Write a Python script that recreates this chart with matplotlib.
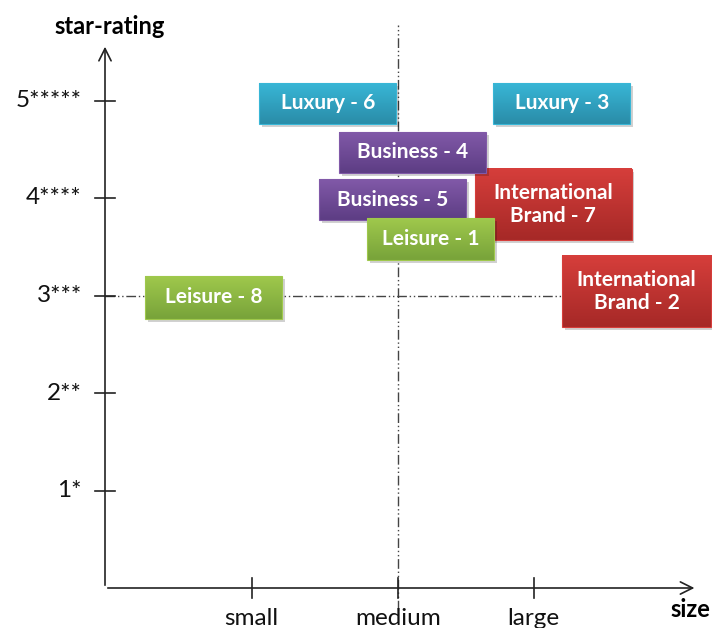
"""Hotel positioning map -- star-rating vs size, with labelled segment boxes."""

import numpy as np
import matplotlib

matplotlib.use("Agg")
import matplotlib.pyplot as plt
from matplotlib.colors import LinearSegmentedColormap
from matplotlib.patches import Rectangle

plt.rcParams["font.family"] = ["Lato", "DejaVu Sans"]

# data
hotel_labels = ["Luxury - 6", "Luxury - 3", "Business - 4", "Business - 5", "Leisure - 1",
                "International\nBrand - 7", "International\nBrand - 2", "Leisure - 8"]
hotel_segment = ["luxury", "luxury", "business", "business", "leisure", "intl", "intl", "leisure"]
hotel_size = [1.58, 3.24, 2.18, 2.04, 2.31, 3.18, 3.77, 0.77]
hotel_rating = [4.97, 4.97, 4.47, 3.98, 3.58, 3.93, 3.04, 2.98]

rating_ticks = [1, 2, 3, 4, 5]
rating_labels = ["1*", "2**", "3***", "4****", "5*****"]
size_ticks = [1.04, 2.08, 3.04]
size_labels = ["small", "medium", "large"]

# layout / style
box_w = [0.97, 0.97, 1.04, 1.04, 0.90, 1.11, 1.06, 0.97]
box_h = [0.42, 0.42, 0.42, 0.42, 0.43, 0.73, 0.73, 0.44]
draw_order = [5, 6, 0, 1, 2, 3, 4, 7]  # red boxes sit underneath the others
seg_colors = {
    "luxury": ("#38b6d6", "#2a8ca8"),
    "business": ("#8159a8", "#5d3d84"),
    "leisure": ("#9fc84c", "#78a33a"),
    "intl": ("#d63e3b", "#a62927"),
}

fig = plt.figure(figsize=(7.12, 6.28), dpi=100)
ax = fig.add_axes([0, 0, 1, 1])
xlim = (-105 / 141, (712 - 105) / 141)
ylim = ((588 - 628) / 97.5, 588 / 97.5)

# axes with arrow heads
ax.annotate("", xy=(4.2, 0), xytext=(0, 0),
            arrowprops=dict(arrowstyle="->", color="#222222", lw=1.2, mutation_scale=22))
ax.annotate("", xy=(0, 5.58), xytext=(0, 0),
            arrowprops=dict(arrowstyle="->", color="#222222", lw=1.2, mutation_scale=22))

for y, lab in zip(rating_ticks, rating_labels):
    ax.plot([-0.071, 0.071], [y, y], color="#222222", lw=1.2)
    ax.text(-0.165, y, lab, ha="right", va="center", fontsize=17.5, color="#111111")
for x, lab in zip(size_ticks, size_labels):
    ax.plot([x, x], [-0.1, 0.1], color="#222222", lw=1.2)
    ax.text(x, -0.31, lab, ha="center", va="center", fontsize=17.5, color="#111111")

ax.text(0.03, 5.76, "star-rating", ha="center", va="center", fontsize=17, fontweight="bold")
ax.text(4.15, -0.22, "size", ha="center", va="center", fontsize=17, fontweight="bold")

# quadrant lines
dash = (0, (7, 2, 1, 2, 1, 2))
ax.plot([2.08, 2.08], [-0.23, 5.77], color="#444444", lw=1.0, linestyle=dash, zorder=1)
ax.plot([0, 4.2], [3, 3], color="#444444", lw=1.0, linestyle=dash, zorder=1)

# segment boxes
for rank, i in enumerate(draw_order):
    lab, seg, x, y = hotel_labels[i], hotel_segment[i], hotel_size[i], hotel_rating[i]
    w, h = box_w[i], box_h[i]
    x0, y0 = x - w / 2, y - h / 2
    z = 3 + rank * 0.1
    ax.add_patch(Rectangle((x0 + 0.02, y0 - 0.03), w, h, facecolor="#000000", alpha=0.18,
                           edgecolor="none", zorder=z))
    top, bottom = seg_colors[seg]
    cmap = LinearSegmentedColormap.from_list(seg, [bottom, top])
    grad = np.linspace(1, 0, 64).reshape(-1, 1)
    ax.imshow(grad, cmap=cmap, extent=(x0, x0 + w, y0, y0 + h), aspect="auto",
              origin="upper", zorder=z + 0.01, vmin=0, vmax=1)
    ax.add_patch(Rectangle((x0, y0), w, h, facecolor="none", edgecolor=top, lw=0.8,
                           zorder=z + 0.02))
    ax.text(x, y, lab, ha="center", va="center", color="white", fontsize=15,
            fontweight="bold", linespacing=1.2, zorder=z + 0.03)

ax.set_xlim(*xlim)
ax.set_ylim(*ylim)
ax.axis("off")

fig.savefig("out.png", dpi=100)
